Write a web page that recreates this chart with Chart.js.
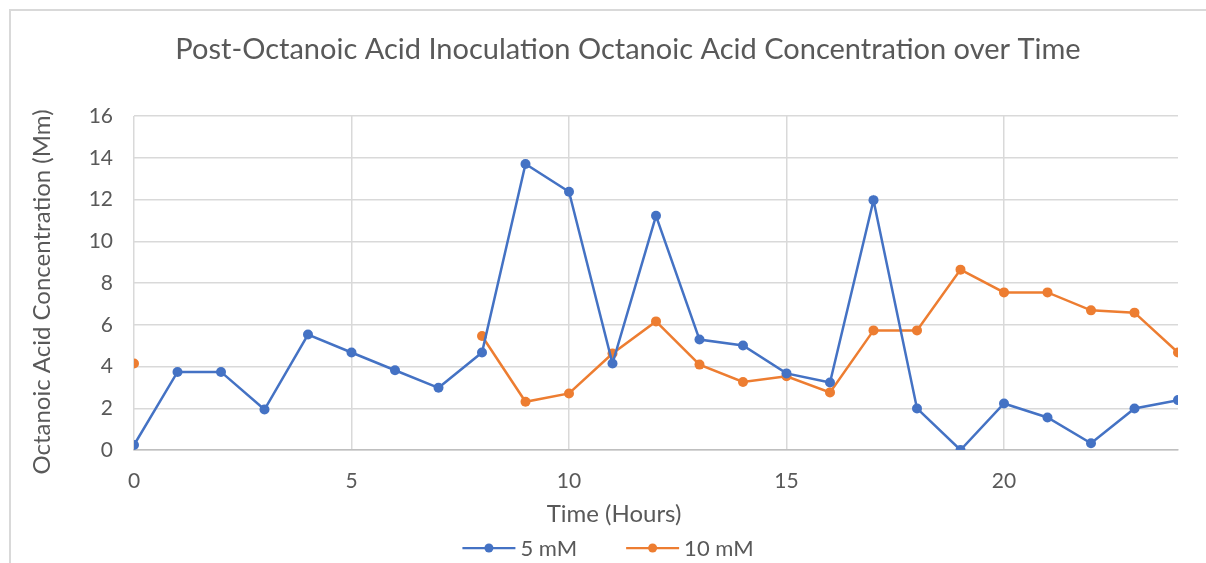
<!DOCTYPE html>
<html lang="en">
<head>
  <meta charset="UTF-8">
  <title>Octanoic Acid Concentration over Time</title>
  <script src="https://cdn.jsdelivr.net/npm/chart.js"></script>
  <style>
    body {
      margin: 0;
      padding: 0;
      overflow: hidden;
      background-color: #ffffff;
    }
    #wrap {
      position: absolute;
      left: 9px;
      top: 9px;
      width: 1197px;
      height: 554px;
      border-left: 2px solid #d9d9d9;
      border-top: 2px solid #d9d9d9;
      box-sizing: border-box;
    }
  </style>
</head>
<body>
  <div id="wrap">
    <canvas id="lineChart"></canvas>
  </div>

  <script>
    // time in hours
    const hours = [0, 1, 2, 3, 4, 5, 6, 7, 8, 9, 10, 11, 12, 13, 14, 15, 16, 17, 18, 19, 20, 21, 22, 23, 24];
    // 5 mM series
    const conc5mM = [0.24, 3.74, 3.74, 1.94, 5.53, 4.67, 3.82, 2.98, 4.67, 13.7, 12.37, 4.14, 11.22, 5.29, 5.01, 3.67, 3.23, 11.97, 1.99, 0, 2.23, 1.56, 0.32, 1.99, 2.39];
    // 10 mM series (no readings for hours 1-7)
    const conc10mM = [4.14, null, null, null, null, null, null, null, 5.46, 2.31, 2.71, 4.62, 6.16, 4.09, 3.26, 3.53, 2.76, 5.73, 5.73, 8.64, 7.55, 7.55, 6.69, 6.58, 4.67];
    const xTicks = [0, 5, 10, 15, 20];
    const yTicks = [0, 2, 4, 6, 8, 10, 12, 14, 16];

    const chartTitle = 'Post-Octanoic Acid Inoculation Octanoic Acid Concentration over Time';
    const xTitle = 'Time (Hours)';
    const yTitle = 'Octanoic Acid Concentration (Mm)';

    const BLUE = '#4472c4';
    const ORANGE = '#ed7d31';
    const TEXT = '#595959';
    const FONT = 'Lato, "Open Sans", sans-serif';

    function toPoints(ys) {
      return hours.map((h, i) => ({ x: h, y: ys[i] }));
    }

    // Excel puts the titles and legend a bit off the plot centre, so draw them by hand
    const excelText = {
      id: 'excelText',
      afterDraw(chart) {
        const c = chart.ctx;
        c.save();
        c.fillStyle = TEXT;
        c.textBaseline = 'middle';
        c.textAlign = 'center';

        c.font = '29px ' + FONT;
        c.fillText(chartTitle, 617, 39);

        c.font = '24px ' + FONT;
        c.fillText(xTitle, 603, 503);

        c.save();
        c.translate(31, 281);
        c.rotate(-Math.PI / 2);
        c.fillText(yTitle, 0, 0);
        c.restore();

        // legend: line with dot, then label
        c.font = '22px ' + FONT;
        c.textAlign = 'left';
        const lineLen = 53, gap = 5, itemGap = 49;
        const items = chart.data.datasets.map(ds => ({
          text: ds.label, color: ds.borderColor, w: c.measureText(ds.label).width
        }));
        let total = 0;
        items.forEach((it, i) => { total += lineLen + gap + it.w + (i ? itemGap : 0); });
        let x = 597 - total / 2;
        const y = 537;
        items.forEach(it => {
          c.strokeStyle = it.color;
          c.lineWidth = 2.25;
          c.beginPath();
          c.moveTo(x, y);
          c.lineTo(x + lineLen, y);
          c.stroke();
          c.fillStyle = it.color;
          c.beginPath();
          c.arc(x + lineLen / 2, y, 4.5, 0, Math.PI * 2);
          c.fill();
          c.fillStyle = TEXT;
          c.fillText(it.text, x + lineLen + gap, y + 1);
          x += lineLen + gap + it.w + itemGap;
        });
        c.restore();
      }
    };

    const ctx = document.getElementById('lineChart').getContext('2d');
    ctx.canvas.width = 1195;
    ctx.canvas.height = 552;

    new Chart(ctx, {
      type: 'line',
      data: {
        datasets: [
          {
            label: '5 mM',
            data: toPoints(conc5mM),
            borderColor: BLUE,
            backgroundColor: BLUE,
            borderWidth: 2.5,
            pointRadius: 5,
            pointHoverRadius: 5,
            pointBorderWidth: 0,
            tension: 0
          },
          {
            label: '10 mM',
            data: toPoints(conc10mM),
            borderColor: ORANGE,
            backgroundColor: ORANGE,
            borderWidth: 2.5,
            pointRadius: 5,
            pointHoverRadius: 5,
            pointBorderWidth: 0,
            tension: 0,
            spanGaps: false
          }
        ]
      },
      options: {
        responsive: false,
        animation: false,
        layout: {
          padding: { left: 0, right: 28, top: 105, bottom: 0 }
        },
        plugins: {
          title: { display: false },
          legend: { display: false },
          tooltip: { enabled: false }
        },
        scales: {
          x: {
            type: 'linear',
            min: 0,
            max: 24,
            afterBuildTicks: function(axis) {
              axis.ticks = xTicks.map(v => ({ value: v }));
            },
            afterFit: function(axis) {
              axis.height = 113;
            },
            grid: {
              color: '#d9d9d9',
              lineWidth: 1.5,
              drawTicks: false
            },
            border: { color: '#bfbfbf', width: 1.5 },
            ticks: {
              color: TEXT,
              font: { family: FONT, size: 21 },
              padding: 19,
              maxRotation: 0
            }
          },
          y: {
            min: 0,
            max: 16,
            afterBuildTicks: function(axis) {
              axis.ticks = yTicks.map(v => ({ value: v }));
            },
            afterFit: function(axis) {
              axis.width = 123;
            },
            grid: {
              color: '#d9d9d9',
              lineWidth: 1.5,
              drawTicks: false
            },
            border: { display: false },
            ticks: {
              color: TEXT,
              font: { family: FONT, size: 21 },
              padding: 21
            }
          }
        }
      },
      plugins: [excelText]
    });
  </script>
</body>
</html>
